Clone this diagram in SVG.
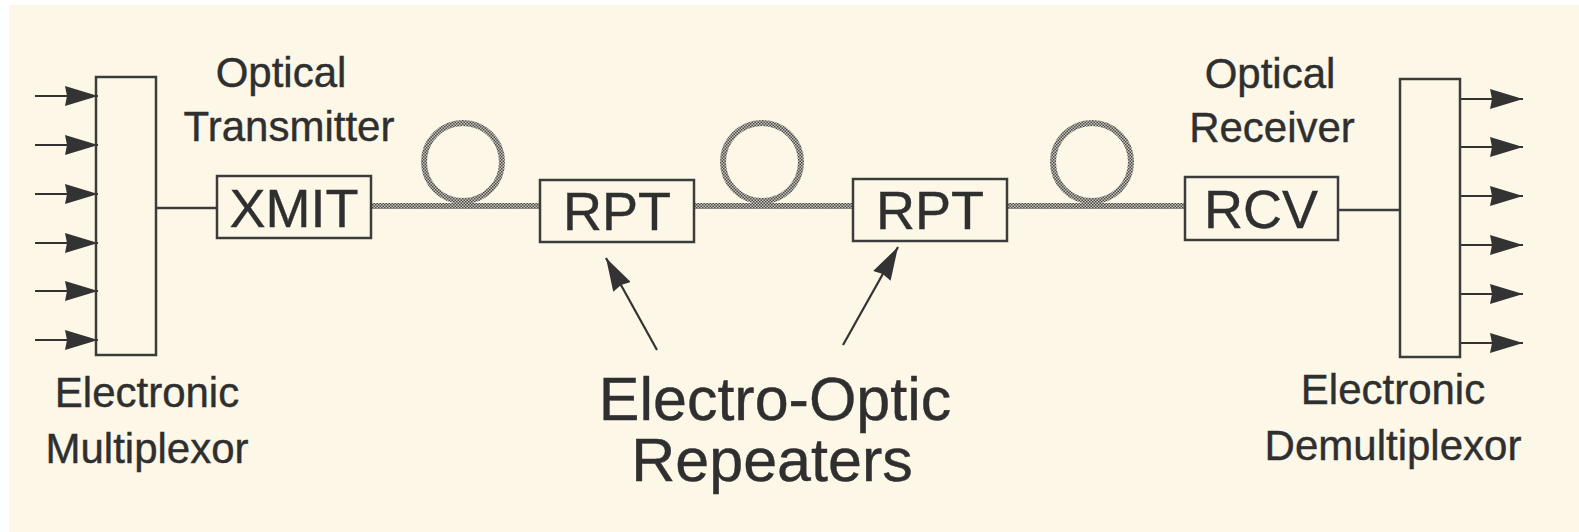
<svg xmlns="http://www.w3.org/2000/svg" width="1579" height="532" viewBox="0 0 1579 532">
  <defs>
    <pattern id="checker" width="3" height="3" patternUnits="userSpaceOnUse">
      <rect width="3" height="3" fill="#c8c4b8"/>
      <rect width="1.5" height="1.5" fill="#4a4a4a"/>
      <rect x="1.5" y="1.5" width="1.5" height="1.5" fill="#4a4a4a"/>
    </pattern>
    <marker id="ah" viewBox="0 0 33 20" refX="33" refY="10" markerWidth="33" markerHeight="20" markerUnits="userSpaceOnUse" orient="auto">
      <path d="M0,0 L33,10 L0,20 L2,10 Z" fill="#333"/>
    </marker>
  </defs>
  <style>
    .box { fill: none; stroke: #3c3c3c; stroke-width: 2.5; }
    .wire { stroke: #3c3c3c; stroke-width: 2.4; fill: none; }
    .fiber { stroke: url(#checker); stroke-width: 6; fill: none; }
    .arrow { stroke: #333; stroke-width: 2.2; fill: none; marker-end: url(#ah); }
    .lbl { font-family: "Liberation Sans", Arial, sans-serif; fill: #2f2f2f; stroke: #2f2f2f; stroke-width: 0.4; text-anchor: middle; }
    .s42 { font-size: 42px; }
    .s53 { font-size: 54px; }
    .s61 { font-size: 61px; }
  </style>
  <rect width="1579" height="532" fill="#ffffff"/>
  <rect x="9" y="5" width="1570" height="527" fill="#fdf7e7"/>

  <g id="connectors">
    <line class="arrow" x1="35" y1="96" x2="98" y2="96"/>
    <line class="arrow" x1="35" y1="145" x2="98" y2="145"/>
    <line class="arrow" x1="35" y1="194" x2="98" y2="194"/>
    <line class="arrow" x1="35" y1="243" x2="98" y2="243"/>
    <line class="arrow" x1="35" y1="291" x2="98" y2="291"/>
    <line class="arrow" x1="35" y1="340" x2="98" y2="340"/>
    <line class="wire" x1="156" y1="208" x2="217" y2="208"/>
    <line class="fiber" x1="371" y1="206" x2="540" y2="206"/>
    <circle class="fiber" cx="463" cy="162" r="39"/>
    <line class="fiber" x1="694" y1="206" x2="853" y2="206"/>
    <circle class="fiber" cx="762" cy="162" r="39"/>
    <line class="fiber" x1="1007" y1="206" x2="1185" y2="206"/>
    <circle class="fiber" cx="1092" cy="162" r="39"/>
    <line class="wire" x1="1338" y1="210" x2="1400" y2="210"/>
    <line class="arrow" x1="1460" y1="99" x2="1523" y2="99"/>
    <line class="arrow" x1="1460" y1="147" x2="1523" y2="147"/>
    <line class="arrow" x1="1460" y1="196" x2="1523" y2="196"/>
    <line class="arrow" x1="1460" y1="245" x2="1523" y2="245"/>
    <line class="arrow" x1="1460" y1="294" x2="1523" y2="294"/>
    <line class="arrow" x1="1460" y1="343" x2="1523" y2="343"/>
    <line class="arrow" x1="657" y1="350" x2="606" y2="258"/>
    <line class="arrow" x1="843" y1="345" x2="898" y2="247"/>
  </g>

  <g id="mux">
    <rect class="box" x="96" y="77" width="60" height="278"/>
    <text class="lbl s42" x="147" y="407">Electronic</text>
    <text class="lbl s42" x="147" y="463">Multiplexor</text>
  </g>
  <g id="xmit">
    <rect class="box" x="217" y="176" width="154" height="62"/>
    <text class="lbl s53" x="294" y="227">XMIT</text>
    <text class="lbl s42" x="281" y="87">Optical</text>
    <text class="lbl s42" x="289" y="141">Transmitter</text>
  </g>
  <g id="rpt1">
    <rect class="box" x="540" y="180" width="154" height="62"/>
    <text class="lbl s53" x="617" y="230">RPT</text>
  </g>
  <g id="rpt2">
    <rect class="box" x="853" y="179" width="154" height="62"/>
    <text class="lbl s53" x="930" y="229">RPT</text>
  </g>
  <g id="rcv">
    <rect class="box" x="1185" y="177" width="153" height="63"/>
    <text class="lbl s53" x="1261" y="228">RCV</text>
    <text class="lbl s42" x="1270" y="88">Optical</text>
    <text class="lbl s42" x="1272" y="142">Receiver</text>
  </g>
  <g id="demux">
    <rect class="box" x="1400" y="79" width="60" height="278"/>
    <text class="lbl s42" x="1393" y="404">Electronic</text>
    <text class="lbl s42" x="1393" y="460">Demultiplexor</text>
  </g>
  <g id="repeaters-label">
    <text class="lbl s61" x="775" y="420">Electro-Optic</text>
    <text class="lbl s61" x="772" y="481">Repeaters</text>
  </g>
</svg>
